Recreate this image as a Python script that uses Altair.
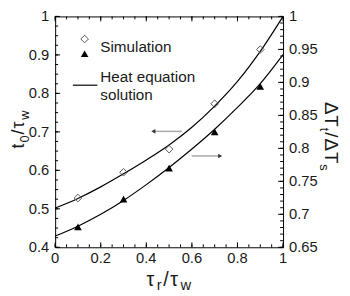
import altair as alt
import pandas as pd

# ---------------- data ----------------
x_curve = [0.0, 0.1, 0.2, 0.3, 0.4, 0.5, 0.6, 0.7, 0.8, 0.9, 1.0]
t0_curve = [0.502, 0.527, 0.557, 0.591, 0.627, 0.666, 0.712, 0.767, 0.831, 0.909, 1.0]
dT_curve = [0.667, 0.682, 0.700, 0.721, 0.745, 0.771, 0.799, 0.829, 0.862, 0.898, 0.942]

x_sim = [0.1, 0.3, 0.5, 0.7, 0.9]
t0_sim = [0.528, 0.595, 0.655, 0.773, 0.914]
dT_sim = [0.681, 0.723, 0.770, 0.825, 0.894]

x_ticks = [0, 0.2, 0.4, 0.6, 0.8, 1]
x_tick_labels = ["0", "0.2", "0.4", "0.6", "0.8", "1"]
left_ticks = [0.4, 0.5, 0.6, 0.7, 0.8, 0.9, 1]
left_tick_labels = ["0.4", "0.5", "0.6", "0.7", "0.8", "0.9", "1"]
right_ticks = [0.65, 0.7, 0.75, 0.8, 0.85, 0.9, 0.95, 1]
right_tick_labels = ["0.65", "0.7", "0.75", "0.8", "0.85", "0.9", "0.95", "1"]
x_minor = [round(0.05 * i, 3) for i in range(21)]
left_minor = [round(0.4 + 0.025 * i, 3) for i in range(25)]
right_minor = [round(0.65 + 0.01 * i, 3) for i in range(36)]

legend_texts = ["Simulation", "Heat equation", "solution"]

# ---------------- styling ----------------
W, H = 232, 235
FONT = "Liberation Sans"
INK = "#1a1a1a"
MAJ, MIN = 5, 3
LAB = 15

xs = alt.Scale(domain=[0, 1], nice=False, zero=False)
yl = alt.Scale(domain=[0.4, 1], nice=False, zero=False)
yr = alt.Scale(domain=[0.65, 1], nice=False, zero=False)

curve_df = pd.DataFrame({"x": x_curve, "t0": t0_curve, "dT": dT_curve})
sim_df = pd.DataFrame({"x": x_sim, "t0": t0_sim, "dT": dT_sim})
one = pd.DataFrame({"a": [0]})


def xticks(vals, length, top):
    df = pd.DataFrame({"v": vals})
    y0 = 0 if top else H
    y1 = length if top else H - length
    return alt.Chart(df).mark_rule(color="black", strokeWidth=1).encode(
        x=alt.X("v:Q", scale=xs, axis=None), y=alt.value(y0), y2=alt.value(y1))


def yticks(vals, scale, length, right):
    df = pd.DataFrame({"v": vals})
    x0 = W if right else 0
    x1 = W - length if right else length
    return alt.Chart(df).mark_rule(color="black", strokeWidth=1).encode(
        y=alt.Y("v:Q", scale=scale, axis=None), x=alt.value(x0), x2=alt.value(x1))


def xlabels():
    df = pd.DataFrame({"v": x_ticks, "t": x_tick_labels})
    return alt.Chart(df).mark_text(align="center", baseline="top", font=FONT,
                                   fontSize=LAB, color=INK).encode(
        x=alt.X("v:Q", scale=xs, axis=None), y=alt.value(H + 4), text="t:N")


def ylabels(vals, texts, scale, right):
    df = pd.DataFrame({"v": vals, "t": texts})
    return alt.Chart(df).mark_text(align="left" if right else "right", baseline="middle",
                                   font=FONT, fontSize=LAB, color=INK).encode(
        y=alt.Y("v:Q", scale=scale, axis=None),
        x=alt.value(W + 6 if right else -6), text="t:N")


def txt(s, x, y, size, angle=0):
    return alt.Chart(one).mark_text(text=s, align="left", baseline="alphabetic",
                                    font=FONT, fontSize=size, color=INK,
                                    angle=angle).encode(x=alt.value(x), y=alt.value(y))


ADV = {"t": 0.278, "0": 0.556, "/": 0.278, "τ": 0.45, "w": 0.722, "r": 0.333,
       "Δ": 0.668, "T": 0.611, "s": 0.5}


def title(pieces, start, base, mode, main, sub, shift, gap):
    out = []
    pos = start
    for s, is_sub in pieces:
        size = sub if is_sub else main
        adv = ADV[s] * size + gap
        if mode == "h":
            out.append(txt(s, pos, base + (shift if is_sub else 0), size))
            pos += adv
        elif mode == "up":
            out.append(txt(s, base + (shift if is_sub else 0), pos, size, 270))
            pos -= adv
        else:
            out.append(txt(s, base - (shift if is_sub else 0), pos, size, 90))
            pos += adv
    return out


# ---------------- left-scale group ----------------
upper = alt.Chart(curve_df).mark_line(color="black", strokeWidth=1.2, interpolate="monotone").encode(
    x=alt.X("x:Q", scale=xs, axis=None),
    y=alt.Y("t0:Q", scale=yl, axis=None))
diam = alt.Chart(sim_df).mark_point(shape="diamond", filled=False, color="#555",
                                    strokeWidth=1, size=60, opacity=1).encode(
    x=alt.X("x:Q", scale=xs, axis=None), y=alt.Y("t0:Q", scale=yl, axis=None))

left_group = alt.layer(
    upper, diam,
    xticks(x_minor, MIN, False), xticks(x_ticks, MAJ, False),
    xticks(x_minor, MIN, True), xticks(x_ticks, MAJ, True),
    yticks(left_minor, yl, MIN, False), yticks(left_ticks, yl, MAJ, False),
    xlabels(), ylabels(left_ticks, left_tick_labels, yl, False),
)

# ---------------- right-scale group ----------------
lower = alt.Chart(curve_df).mark_line(color="black", strokeWidth=1.2, interpolate="monotone").encode(
    x=alt.X("x:Q", scale=xs, axis=None),
    y=alt.Y("dT:Q", scale=yr, axis=None))
tri = alt.Chart(sim_df).mark_point(shape="triangle-up", filled=True, color="black",
                                   size=60, opacity=1).encode(
    x=alt.X("x:Q", scale=xs, axis=None), y=alt.Y("dT:Q", scale=yr, axis=None))

right_group = alt.layer(
    lower, tri,
    yticks(right_minor, yr, MIN, True), yticks(right_ticks, yr, MAJ, True),
    ylabels(right_ticks, right_tick_labels, yr, True),
)

# ---------------- decorations: legend, arrows, titles ----------------
deco = [
    alt.Chart(one).mark_point(shape="diamond", filled=False, color="#555", strokeWidth=1,
                              size=60, opacity=1).encode(x=alt.value(30), y=alt.value(23)),
    alt.Chart(one).mark_point(shape="triangle-up", filled=True, color="black", size=60,
                              opacity=1).encode(x=alt.value(30), y=alt.value(38)),
    alt.Chart(one).mark_rule(color="black", strokeWidth=1.2).encode(
        x=alt.value(18), x2=alt.value(43), y=alt.value(70)),
    txt(legend_texts[0], 46, 36, 15.5),
    txt(legend_texts[1], 46, 67, 15.5),
    txt(legend_texts[2], 46, 85, 15.5),
    # arrows
    alt.Chart(one).mark_rule(color="#aaaaaa", strokeWidth=1.5).encode(
        x=alt.value(101), x2=alt.value(129), y=alt.value(117)),
    alt.Chart(one).mark_point(shape="triangle-left", filled=True, color="#333", size=22,
                              opacity=1).encode(x=alt.value(100), y=alt.value(117)),
    alt.Chart(one).mark_rule(color="#aaaaaa", strokeWidth=1.5).encode(
        x=alt.value(139), x2=alt.value(167), y=alt.value(142)),
    alt.Chart(one).mark_point(shape="triangle-right", filled=True, color="#333", size=22,
                              opacity=1).encode(x=alt.value(168), y=alt.value(142)),
]
deco += title([("τ", 0), ("r", 1), ("/", 0), ("τ", 0), ("w", 1)], 93, H + 39, "h", 20, 15, 4, 1.5)
deco += title([("t", 0), ("0", 1), ("/", 0), ("τ", 0), ("w", 1)], 134.4, -32, "up", 18, 13, 5, 1)
deco += title([("Δ", 0), ("T", 0), ("t", 1), ("/", 0), ("Δ", 0), ("T", 0), ("s", 1)],
              87, W + 43, "down", 19, 13, 5, 1)

chart = alt.layer(left_group, right_group, *deco).resolve_scale(y="independent").properties(
    width=W, height=H,
    autosize=alt.AutoSizeParams(type="none"),
    padding={"left": 48, "top": 6, "right": 60, "bottom": 47},
    background="white",
).configure_view(stroke="black", strokeWidth=1)

chart.save("out.html", embed_options={"renderer": "svg", "actions": False})
